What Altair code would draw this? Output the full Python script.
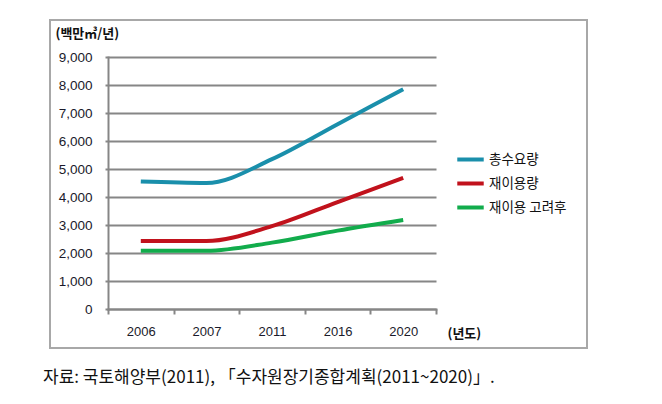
import altair as alt
import pandas as pd

years = ["2006", "2007", "2011", "2016", "2020"]
total_demand = [4550, 4500, 5350, 6600, 7850]
reuse = [2430, 2430, 2960, 3820, 4680]
after_reuse = [2080, 2080, 2370, 2800, 3180]
series_names = ["총수요량", "재이용량", "재이용 고려후"]
series_colors = ["#1a8fab", "#c1121c", "#12ac4c"]
y_ticks = [0, 1000, 2000, 3000, 4000, 5000, 6000, 7000, 8000, 9000]
caption = "자료:  국토해양부(2011),  「수자원장기종합계획(2011~2020)」."

rows = []
for name, vals in zip(series_names, [total_demand, reuse, after_reuse]):
    for y, v in zip(years, vals):
        rows.append({"year": y, "value": v, "series": name})
df = pd.DataFrame(rows)

W, H = 328, 252

lines = alt.Chart(df).mark_line(strokeWidth=4, interpolate="monotone", strokeCap="butt").encode(
    x=alt.X("year:N", sort=years, bandPosition=0.5,
            scale=alt.Scale(type="band", paddingInner=0, paddingOuter=0),
            axis=alt.Axis(title="(년도)", labelAngle=0, tickBand="extent", tickSize=5,
                          tickColor="#868686", tickWidth=2, domainColor="#868686", domainWidth=2,
                          labelPadding=11, labelFont="Liberation Sans", labelFontSize=13,
                          labelColor="#1a1a2a", grid=False,
                          titleX=339, titleY=24, titleAlign="left", titleBaseline="middle",
                          titleFont="Noto Sans CJK KR", titleFontSize=13, titleFontWeight="bold",
                          titleColor="#111111")),
    y=alt.Y("value:Q", scale=alt.Scale(domain=[0, 9000], nice=False),
            axis=alt.Axis(values=y_ticks, format=",.0f", title="(백만㎥/년)", titleAngle=0,
                          titleX=-53, titleY=-24, titleAlign="left", titleBaseline="middle",
                          titleFont="Noto Sans CJK KR", titleFontSize=13, titleFontWeight="bold",
                          titleColor="#111111",
                          tickSize=3, tickColor="#868686", tickWidth=2,
                          domainColor="#868686", domainWidth=2,
                          gridColor="#868686", gridWidth=2,
                          labelPadding=13, labelFont="Liberation Sans", labelFontSize=13.5,
                          labelColor="#1a1a2a")),
    color=alt.Color("series:N", sort=series_names,
                    scale=alt.Scale(domain=series_names, range=series_colors),
                    legend=alt.Legend(title=None, orient="none", legendX=347, legendY=87,
                                      symbolType="stroke", symbolStrokeWidth=4, symbolSize=700,
                                      labelFont="Noto Sans CJK KR", labelFontSize=13.5,
                                      labelColor="#111111", labelOffset=3, rowPadding=0)),
)

frame = alt.Chart(pd.DataFrame({"a": [0]})).mark_rect(
    fill=None, stroke="#a8a8a8", strokeWidth=2
).encode(x=alt.value(-58), x2=alt.value(479), y=alt.value(-37), y2=alt.value(291))

cap = alt.Chart(pd.DataFrame({"t": [caption]})).mark_text(
    align="left", baseline="middle", font="Noto Sans CJK KR", fontSize=17, color="#111111"
).encode(text="t:N", x=alt.value(-65), y=alt.value(321))

chart = alt.layer(frame, lines, cap).properties(
    width=W, height=H,
    autosize=alt.AutoSizeParams(type="none"),
    padding={"left": 100, "top": 49, "right": 218, "bottom": 87},
).configure_view(stroke=None).configure_axis(domainCap="square")

chart.save("out.html", embed_options={"renderer": "svg", "actions": False})
